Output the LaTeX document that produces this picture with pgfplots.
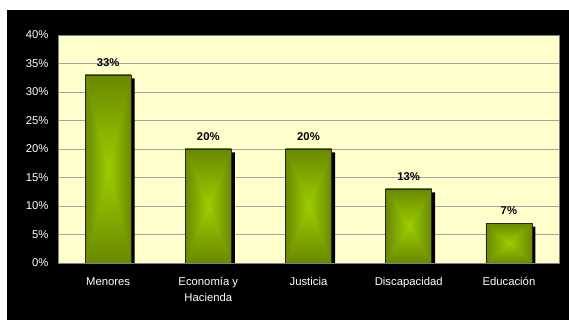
\documentclass[border=0pt]{standalone}
\usepackage{pgfplots}
\pgfplotsset{compat=1.18}
\usepackage{pgfplotstable}
\usepackage{fontspec}
\setmainfont{Liberation Sans}
\usetikzlibrary{fadings}
\definecolor{plotbg}{RGB}{255,255,204}
\definecolor{bardark}{RGB}{106,136,0}
\definecolor{barlight}{RGB}{155,206,0}
\definecolor{gridgray}{RGB}{165,165,165}
\definecolor{framegray}{RGB}{128,128,128}

% top and bottom wedges of a bar: lets a vertical gradient show only there,
% so that together with the horizontal one the bar shades from its centre
\begin{tikzfadingfrompicture}[name=hourglass]
  \fill[transparent!100] (-50bp,-50bp) rectangle (50bp,50bp);
  \fill[transparent!0] (-50bp,50bp) -- (50bp,50bp) -- (0bp,0bp) -- cycle;
  \fill[transparent!0] (-50bp,-50bp) -- (50bp,-50bp) -- (0bp,0bp) -- cycle;
\end{tikzfadingfrompicture}

% share of cases per area (%)
\pgfplotstableread{
idx value
0 33
1 20
2 20
3 13
4 7
}\sharedata

\newcommand{\lblfont}{\fontsize{11.3}{16}\selectfont}

\pgfplotsset{
  onebar/.style={ybar, bar width=46pt, bar shift=0pt},
}

\begin{document}
\begin{tikzpicture}
% page and black chart backdrop
\fill[white] (-58pt,-57pt) rectangle (511pt,263pt);
\fill[black] (-51pt,-57pt) rectangle (511pt,253pt);
\begin{axis}[
  at={(0pt,0pt)}, anchor=south west,
  scale only axis, width=501pt, height=228pt,
  xmin=-0.5, xmax=4.5, ymin=0, ymax=40,
  axis background/.style={fill=plotbg},
  axis line style={draw=framegray, line width=0.8pt},
  ymajorgrids, grid style={draw=gridgray, line width=0.8pt},
  major tick length=0pt,
  ytick={0,5,...,40},
  yticklabels={0\%,5\%,10\%,15\%,20\%,25\%,30\%,35\%,40\%},
  xtick={0,...,4},
  xticklabels={Menores, Economía y\\Hacienda, Justicia, Discapacidad, Educación},
  ticklabel style={text=white, font=\lblfont},
  xticklabel style={align=center, yshift=-11pt},
  yticklabel style={xshift=-6pt},
  /pgf/number format/assume math mode=true,
]
% black shadow behind the bars, offset right and down
\addplot[onebar, fill=black, draw=none, xshift=3.5pt, yshift=-3.5pt]
  table[x=idx, y=value] {\sharedata};
% each bar on its own, so that its gradients fit that bar
\pgfplotsinvokeforeach{0,...,4}{
  \addplot[onebar, draw=none,
    left color=bardark, right color=bardark, middle color=barlight,
  ] table[x=idx, y=value, restrict x to domain=#1:#1] {\sharedata};
  \addplot[onebar, draw=none,
    top color=bardark, bottom color=bardark, middle color=barlight,
    path fading=hourglass,
  ] table[x=idx, y=value, restrict x to domain=#1:#1] {\sharedata};
}
% outline and value labels
\addplot[onebar, draw=black!85, line width=0.7pt, fill=none,
  nodes near coords={\pgfmathprintnumber{\pgfplotspointmeta}\%},
  every node near coord/.append style={text=black, font=\bfseries\lblfont, yshift=5pt},
] table[x=idx, y=value] {\sharedata};
\end{axis}
\end{tikzpicture}
\end{document}
